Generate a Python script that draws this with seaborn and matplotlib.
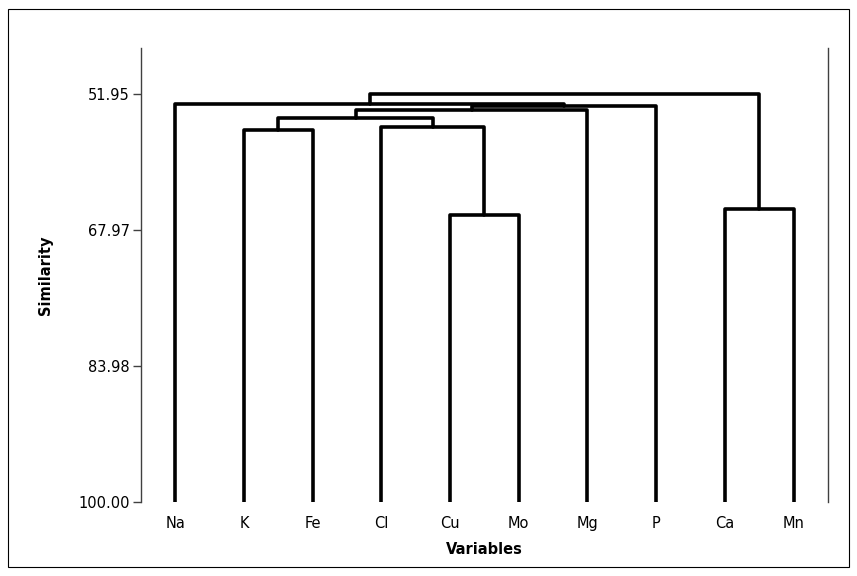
import matplotlib
matplotlib.use("Agg")
import matplotlib.pyplot as plt
import seaborn as sns
import pandas as pd
from matplotlib.patches import Rectangle

# ---- data ----
leaves = ["Na", "K", "Fe", "Cl", "Cu", "Mo", "Mg", "P", "Ca", "Mn"]
# merges: (left cluster id, right cluster id, similarity level)
merge_left = [4, 8, 1, 3, 12, 14, 15, 0, 17]
merge_right = [5, 9, 2, 10, 13, 6, 7, 16, 11]
merge_sim = [66.18, 65.47, 56.16, 55.81, 54.75, 53.81, 53.33, 53.04, 51.95]
ytick_vals = [51.95, 67.97, 83.98, 100.00]
ytick_labels = ["51.95", "67.97", "83.98", "100.00"]

# ---- build dendrogram segments ----
pos = {i: (float(i), 100.0) for i in range(len(leaves))}
rows = []
for k, (a, b, h) in enumerate(zip(merge_left, merge_right, merge_sim)):
    xa, ya = pos[a]
    xb, yb = pos[b]
    for (px, py) in [(xa, ya), (xa, h), (xb, h), (xb, yb)]:
        rows.append({"x": px, "y": py, "seg": k})
    pos[len(leaves) + k] = ((xa + xb) / 2.0, h)
df = pd.DataFrame(rows)

sns.set_style("white")
plt.rcParams["font.family"] = ["DejaVu Sans"]
plt.rcParams["text.color"] = "black"
plt.rcParams["axes.labelcolor"] = "black"
plt.rcParams["xtick.color"] = "black"
plt.rcParams["ytick.color"] = "black"

fig = plt.figure(figsize=(8.57, 5.76), dpi=100)
ax = fig.add_axes([0.1645, 0.1285, 0.8015, 0.788])

sns.lineplot(data=df, x="x", y="y", units="seg", estimator=None, sort=False,
             color="black", linewidth=2.6, ax=ax, legend=False)

ax.set_xlim(-0.5, 9.5)
ax.set_ylim(100, 46.5)
ax.set_yticks(ytick_vals)
ax.set_yticklabels(ytick_labels, fontsize=10.5)
ax.set_xticks(range(len(leaves)))
ax.set_xticklabels(leaves, fontsize=10.5)
ax.tick_params(axis="x", bottom=False, length=0, pad=10)
ax.tick_params(axis="y", left=True, length=6, width=1, color="#404040",
               direction="out", pad=2)

for s in ["top", "bottom"]:
    ax.spines[s].set_visible(False)
for s in ["left", "right"]:
    ax.spines[s].set_visible(True)
    ax.spines[s].set_color("#404040")
    ax.spines[s].set_linewidth(1.0)

ax.set_xlabel("Variables", fontsize=10.5, fontweight="bold", labelpad=8)
ax.set_ylabel("Similarity", fontsize=10.5, fontweight="bold", labelpad=18)

fig.patches.append(Rectangle((8 / 857, 9 / 576), 841 / 857, 558 / 576,
                             transform=fig.transFigure, fill=False,
                             edgecolor="black", linewidth=0.8))

fig.savefig("out.png", dpi=100)
